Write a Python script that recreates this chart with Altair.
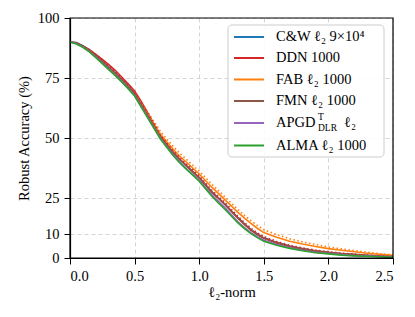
import altair as alt
import pandas as pd

# ---------------- data ----------------
norms = [0, 0.05, 0.1, 0.15, 0.2, 0.25, 0.3, 0.35, 0.4, 0.45, 0.5, 0.55, 0.6, 0.65,
         0.7, 0.75, 0.8, 0.85, 0.9, 0.95, 1.0, 1.05, 1.1, 1.15, 1.2, 1.25, 1.3, 1.35,
         1.4, 1.45, 1.5, 1.6, 1.7, 1.8, 1.9, 2.0, 2.1, 2.2, 2.3, 2.4, 2.5]

cw = [90, 89.8, 88.5, 86.7, 84.4, 82.0, 79.5, 77.0, 74.3, 71.5, 68.5, 64.0, 59.5, 55.0,
      50.5, 47.0, 43.8, 41.0, 38.5, 36.0, 33.4, 30.4, 27.4, 24.9, 22.3, 19.5, 16.7, 14.1,
      11.7, 9.9, 8.3, 6.4, 4.9, 3.8, 2.9, 2.3, 1.8, 1.4, 1.0, 0.7, 0.5]
ddn = [90, 89.6, 88.2, 86.8, 84.8, 82.8, 80.6, 78.2, 75.4, 72.6, 69.6, 65.4, 60.6, 55.8,
       51.0, 47.3, 44.0, 41.1, 38.5, 36.0, 33.4, 30.3, 27.3, 24.8, 22.2, 19.4, 16.6, 14.0,
       11.6, 9.8, 8.2, 6.3, 4.8, 3.7, 2.8, 2.2, 1.7, 1.3, 0.9, 0.6, 0.4]
ddn_dotted = [90, 89.6, 88.2, 86.8, 84.8, 82.6, 80.2, 77.8, 75.0, 72.2, 69.2, 65.0, 60.4, 55.8,
              51.2, 47.8, 44.6, 41.8, 39.2, 36.8, 34.2, 31.2, 28.2, 25.6, 23.0, 20.2, 17.4, 14.8,
              12.4, 10.5, 8.9, 6.9, 5.3, 4.2, 3.3, 2.6, 2.0, 1.6, 1.2, 0.8, 0.6]
fab = [90, 89.5, 88.0, 86.3, 84.0, 81.6, 79.2, 76.7, 74.0, 71.2, 68.3, 64.2, 60.0, 55.8,
       51.6, 48.3, 45.2, 42.4, 40.0, 37.5, 35.0, 32.2, 29.4, 26.8, 24.2, 21.6, 19.0, 16.6,
       14.4, 12.4, 10.6, 8.6, 7.0, 5.8, 4.8, 3.9, 3.2, 2.6, 2.0, 1.5, 1.1]
fab_dotted = [90, 89.5, 88.0, 86.3, 84.0, 81.6, 79.2, 76.8, 74.3, 71.7, 68.9, 65.0, 61.0, 56.9,
              52.8, 49.5, 46.4, 43.6, 41.2, 38.7, 36.2, 33.4, 30.6, 28.0, 25.4, 22.8, 20.2, 17.8,
              15.6, 13.6, 11.8, 9.7, 8.0, 6.7, 5.6, 4.6, 3.8, 3.1, 2.4, 1.8, 1.3]
fmn = [90, 89.6, 88.3, 86.6, 84.4, 82.0, 79.5, 77.0, 74.3, 71.5, 68.5, 64.0, 59.5, 55.0,
       50.5, 47.0, 43.8, 41.0, 38.5, 36.0, 33.5, 30.5, 27.5, 25.0, 22.4, 19.6, 16.8, 14.2,
       11.8, 10.0, 8.4, 6.5, 5.0, 3.9, 3.0, 2.4, 1.9, 1.5, 1.1, 0.8, 0.6]
apgd = [90, 89.3, 87.9, 86.0, 83.7, 81.2, 78.7, 76.2, 73.6, 70.7, 67.7, 63.3, 58.8, 54.3,
        49.9, 46.3, 42.9, 39.9, 37.3, 34.8, 32.3, 29.3, 26.2, 23.5, 20.9, 18.0, 15.1, 12.7,
        10.6, 8.9, 7.4, 5.6, 4.3, 3.2, 2.4, 1.9, 1.4, 1.0, 0.8, 0.6, 0.4]
alma = [90, 89.2, 87.8, 85.9, 83.5, 81.0, 78.5, 76.0, 73.4, 70.5, 67.5, 63.0, 58.5, 54.0,
        49.6, 46.0, 42.6, 39.6, 37.0, 34.5, 32.0, 28.8, 25.6, 22.8, 20.2, 17.4, 14.6, 12.2,
        10.2, 8.5, 7.0, 5.3, 4.0, 3.0, 2.2, 1.7, 1.2, 0.9, 0.7, 0.5, 0.4]

x_ticks = [0, 0.5, 1.0, 1.5, 2.0, 2.5]
y_ticks = [0, 10, 25, 50, 75, 100]

FONT = "'Liberation Serif', 'DejaVu Serif', serif"
BLUE, RED, ORANGE, BROWN, PURPLE, GREEN = "#1f77b4", "#d62728", "#ff7f0e", "#8c564b", "#9467bd", "#2ca02c"

W, H = 323, 240
FS = 14.5

xscale = alt.Scale(domain=[0, 2.5], nice=False, zero=False)
yscale = alt.Scale(domain=[0, 100], nice=False)

series = [
    (cw, BLUE, None),
    (ddn, RED, None),
    (fab, ORANGE, None),
    (fab_dotted, ORANGE, [1.5, 2.5]),
    (fmn, BROWN, None),
    (ddn_dotted, RED, [1.5, 2.5]),
    (apgd, PURPLE, None),
    (alma, GREEN, None),
]

layers = []
first = True
for vals, col, dash in series:
    df = pd.DataFrame({"x": norms, "y": vals})
    kw = dict(color=col, strokeWidth=1.6, clip=True)
    if dash:
        kw["strokeDash"] = dash
    if first:
        xenc = alt.X("x:Q", scale=xscale, title="ℓ₂-norm",
                     axis=alt.Axis(values=x_ticks, format=".1f", grid=True))
        yenc = alt.Y("y:Q", scale=yscale, title="Robust Accuracy (%)",
                     axis=alt.Axis(values=y_ticks, grid=True))
        first = False
    else:
        xenc = alt.X("x:Q", scale=xscale)
        yenc = alt.Y("y:Q", scale=yscale)
    layers.append(alt.Chart(df).mark_line(**kw).encode(x=xenc, y=yenc))

one = pd.DataFrame({"k": [0]})

# frame on top of grid
frame = alt.Chart(one).mark_rect(fillOpacity=0, stroke="black", strokeWidth=1.2).encode(
    x=alt.value(0), x2=alt.value(W), y=alt.value(0), y2=alt.value(H))

# ---------------- manual legend ----------------
LX0, LX1, LY0, LY1 = 158, 314, 7, 139
layers.append(alt.Chart(one).mark_rect(fill="white", fillOpacity=0.85, stroke="#cccccc",
                                       strokeWidth=1, cornerRadius=4).encode(
    x=alt.value(LX0), x2=alt.value(LX1), y=alt.value(LY0), y2=alt.value(LY1)))

legend_colors = [BLUE, RED, ORANGE, BROWN, PURPLE, GREEN]
legend_rows = [19, 40, 61.5, 83, 105, 127.5]
legend_pieces = [
    [("C&W ℓ₂ 9×10⁴", 0, 0, FS)],
    [("DDN 1000", 0, 0, FS)],
    [("FAB ℓ₂ 1000", 0, 0, FS)],
    [("FMN ℓ₂ 1000", 0, 0, FS)],
    [("APGD", 0, 0, FS), ("T", 42, -6, 9.5), ("DLR", 42, 5, 9.5), ("ℓ₂", 68, 0, FS)],
    [("ALMA ℓ₂ 1000", 0, 0, FS)],
]
TX = 206
for col, ry, pieces in zip(legend_colors, legend_rows, legend_pieces):
    layers.append(alt.Chart(one).mark_rule(color=col, strokeWidth=2).encode(
        x=alt.value(164), x2=alt.value(194), y=alt.value(ry)))
    for txt, dx, dy, fs in pieces:
        layers.append(alt.Chart(pd.DataFrame({"t": [txt]})).mark_text(
            align="left", baseline="middle", font=FONT, fontSize=fs, color="black").encode(
            x=alt.value(TX + dx), y=alt.value(ry + dy), text="t:N"))

layers.append(frame)

chart = alt.layer(*layers).properties(
    width=W, height=H,
    autosize=alt.AutoSizeParams(type="none"),
    padding={"left": 62, "top": 10, "right": 14, "bottom": 50},
).configure_view(stroke=None).configure_axis(
    domainColor="black", domainWidth=1.2, tickColor="black", tickSize=6, tickWidth=1,
    labelFont=FONT, titleFont=FONT, labelFontSize=FS, titleFontSize=FS,
    labelColor="black", titleColor="black", titleFontWeight="normal",
    gridColor="#d4d4d4", gridDash=[4, 3], gridWidth=1, labelPadding=5,
).configure_axisX(titlePadding=3).configure_axisY(titlePadding=6)

chart.save("out.html", embed_options={"renderer": "svg", "actions": False})
